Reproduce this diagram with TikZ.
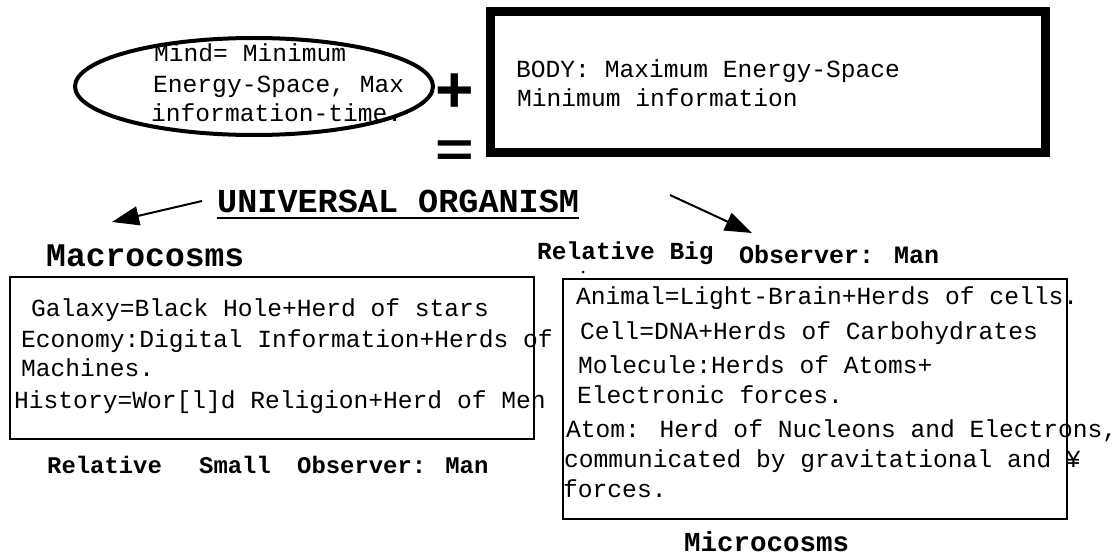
\documentclass[tikz,border=0pt]{standalone}
\usepackage{fontspec}
\usetikzlibrary{arrows.meta,shapes.geometric}
\newfontfamily\lmono{Liberation Mono}
\newfontfamily\lsans{Liberation Sans}
\begin{document}
\begin{tikzpicture}[x=1pt,y=-1pt,
  body/.style={anchor=base west,inner sep=0pt,font=\lmono\fontsize{24.6}{30}\selectfont},
  lab/.style={anchor=base west,inner sep=0pt,font=\lmono\bfseries\fontsize{#1}{#1}\selectfont},
  frame/.style={draw,rectangle,inner sep=0pt,line width=2pt},
  sym/.style={inner sep=0pt,font=\lsans\bfseries\fontsize{66}{66}\selectfont},
  arr/.style={line width=2pt,-{Triangle[length=27pt,width=19pt]}}]
\useasboundingbox (0,0) rectangle (1115,556);

% Mind ellipse
\node[draw,ellipse,line width=4pt,inner sep=0pt,minimum width=358pt,minimum height=97pt] (mind) at (254,86.5) {};
\node[body] (m1) at (154,62) {Mind= Minimum};
\node[body] (m2) at (153,93) {Energy-Space, Max};
\node[body] (m3) at (151,122) {information-time.};

% plus / equals
\node[sym] (plus) at (455,93.5) {+};
\node[sym,yscale=0.75,transform shape] (eq) at (455,154) {=};

% Body box
\node[frame,line width=9pt,minimum width=555pt,minimum height=141pt] (bodybox) at (768,82) {};
\node[body] (b1) at (516,78) {BODY: Maximum Energy-Space};
\node[body] (b2) at (517,107) {Minimum information};

% Title
\node[lab=33.5] (title) at (217,212) {UNIVERSAL ORGANISM};
\draw[line width=2pt] ([yshift=-6pt]title.base west) -- ([yshift=-6pt]title.base east);

% arrows
\coordinate (la0) at (202,201);
\coordinate (la1) at (112,222);
\coordinate (ra0) at (670,195);
\coordinate (ra1) at (752,233);
\draw[arr] (la0) -- (la1);
\draw[arr] (ra0) -- (ra1);

% Macrocosms
\node[lab=33] (macro) at (46,266) {Macrocosms};
\node[frame,minimum width=524pt,minimum height=162pt] (leftbox) at (272,358) {};
\node[body] (l1) at (31,316) {Galaxy=Black Hole+Herd of stars};
\node[body] (l2) at (21,347) {Economy:Digital Information+Herds of};
\node[body] (l3) at (21,376) {Machines.};
\node[body] (l4) at (14,408) {History=Wor[l]d Religion+Herd of Men};
\node[lab=23.9] (rs1) at (47,473) {Relative};
\node[lab=23.9] (rs2) at (199,473) {Small};
\node[lab=23.9] (rs3) at (297,473) {Observer: Man};

% Microcosms
\node[lab=24.5] (rb) at (537,259) {Relative Big};
\node[lab=25] (obs) at (739,263) {Observer: Man};
\fill (583,272) circle (1.5pt);
\node[frame,minimum width=504pt,minimum height=240pt] (rightbox) at (815,399) {};
\node[body] (r1) at (576,304) {Animal=Light-Brain+Herds of cells.};
\node[body] (r2) at (580,339) {Cell=DNA+Herds of Carbohydrates};
\node[body] (r3) at (578,373) {Molecule:Herds of Atoms+};
\node[body] (r4) at (577,403) {Electronic forces.};
\node[body] (r5) at (566,437) {Atom: Herd of Nucleons and Electrons,};
\node[body] (r6) at (564,467) {communicated by gravitational and ¥};
\node[body] (r7) at (563,497) {forces.};
\node[lab=27.5] (micro) at (684,551) {Microcosms};
\end{tikzpicture}
\end{document}
